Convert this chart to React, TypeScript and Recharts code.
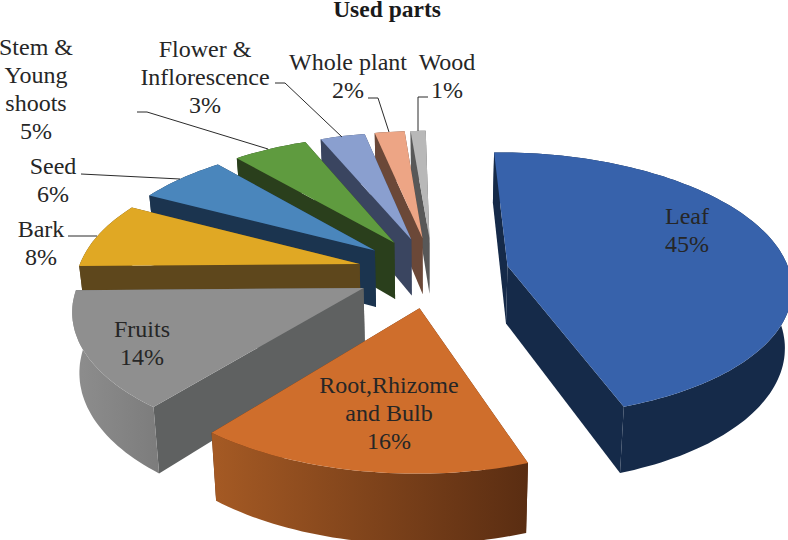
import React from "react";
import { PieChart, Pie } from "recharts";

const categories = ["Wood", "Whole plant", "Flower & Inflorescence", "Stem & Young shoots", "Seed", "Bark", "Fruits", "Root,Rhizome and Bulb", "Leaf"];
const shares = [1, 2, 3, 5, 6, 8, 14, 16, 45];
const topColors = ["#b8b8b8", "#eda585", "#8a9fcf", "#5f9b3f", "#4a86bc", "#e0a824", "#8f8f8f", "#cf6e2c", "#3762ab"];
const sideColors = ["#585858", "#6b4838", "#3a4560", "#2a3f1c", "#1b344f", "#5e471c", "#5f6161", "#5e2f13", "#152a49"];
const rimFrom = ["#585858", "#6b4838", "#3a4560", "#2a3f1c", "#1b344f", "#5e471c", "#8e8e8e", "#a55a24", "#152a49"];
const rimTo = ["#585858", "#6b4838", "#3a4560", "#2a3f1c", "#1b344f", "#5e471c", "#7c7c7c", "#5a2d12", "#152a49"];
const labelLines = [["Wood", "1%"], ["Whole plant", "2%"], ["Flower &", "Inflorescence", "3%"], ["Stem &", "Young", "shoots", "5%"], ["Seed", "6%"], ["Bark", "8%"], ["Fruits", "14%"], ["Root,Rhizome", "and Bulb", "16%"], ["Leaf", "45%"]];
const labelCentres = [[447, 70], [348, 70], [205, 57], [36, 55], [53, 174], [41, 237], [142, 337], [389, 393], [687, 224]];
const leaders = [
  [[428, 97], [418, 97], [418, 131]],
  [[368, 98], [378, 98], [389, 132]],
  [[275, 83], [285, 83], [342, 137]],
  [[137, 112], [147, 112], [268, 149]],
  [[81, 174], [180, 179]],
  [[68, 236], [97, 236]],
  [], [], [],
];

const data = categories.map((name, i) => ({ name, value: shares[i] }));

const FONT = "'Liberation Serif', serif";
const CX = 433, CY = 272, RX = 282, RY = 131, PERSPECTIVE = 0.14, EXPLODE = 0.27, DEPTH = 58, TAPER = 0.98;

function project(u: number, v: number, bottom: boolean) {
  const w = 1 + PERSPECTIVE * v;
  const x = (RX * u) / w;
  const y = (-RY * v + (bottom ? DEPTH : 0)) / w;
  return [CX + x * (bottom ? TAPER : 1), CY + y];
}

function toPath(points: number[][]) {
  return "M" + points.map((p) => p[0].toFixed(1) + "," + p[1].toFixed(1)).join("L") + "Z";
}

function Slice(props: any) {
  const i = categories.indexOf(props.name);
  const a = (90 - props.startAngle) * (Math.PI / 180);
  const b = (90 - props.endAngle) * (Math.PI / 180);
  const mid = (a + b) / 2;
  const ox = EXPLODE * Math.sin(mid);
  const oy = EXPLODE * Math.cos(mid);
  const n = Math.max(2, Math.ceil(Math.abs(a - b) * 40));
  const top: number[][] = [];
  const low: number[][] = [];
  for (let k = 0; k <= n; k++) {
    const t = a + ((b - a) * k) / n;
    top.push(project(ox + Math.sin(t), oy + Math.cos(t), false));
    low.push(project(ox + Math.sin(t), oy + Math.cos(t), true));
  }
  const apexTop = project(ox, oy, false);
  const apexLow = project(ox, oy, true);
  const gid = "rim" + i;
  return (
    <g>
      <defs>
        <linearGradient id={gid} x1="0" x2="1" y1="0" y2="0">
          <stop offset="0" stopColor={rimFrom[i]} />
          <stop offset="1" stopColor={rimTo[i]} />
        </linearGradient>
      </defs>
      <path d={toPath([apexTop, top[0], low[0], apexLow])} fill={sideColors[i]} />
      <path d={toPath([apexTop, top[n], low[n], apexLow])} fill={sideColors[i]} />
      <path d={toPath([...top, ...low.slice().reverse()])} fill={"url(#" + gid + ")"} />
      <path d={toPath([apexTop, ...top])} fill={topColors[i]} />
    </g>
  );
}

function renderLabel(props: any) {
  const i = props.index;
  const [x, y] = labelCentres[i];
  const line = leaders[i];
  return (
    <g key={i}>
      {line.length > 0 && (
        <polyline points={line.map((p) => p.join(",")).join(" ")} fill="none" stroke="#2b2b2b" strokeWidth={1} />
      )}
      <text textAnchor="middle" fontFamily={FONT} fontSize={24} fill="#262626">
        {labelLines[i].map((t, k) => (
          <tspan key={k} x={x} y={y + k * 28}>{t}</tspan>
        ))}
      </text>
    </g>
  );
}

export default function App() {
  return (
    <div style={{ position: "absolute", left: 0, top: 0, width: 788, height: 540, background: "#fff" }}>
      <PieChart width={788} height={540} margin={{ top: 0, right: 0, bottom: 0, left: 0 }}>
        <text x={387} y={17} textAnchor="middle" fontFamily={FONT} fontSize={23.5} fontWeight="bold" fill="#1a1a1a">Used parts</text>
        <Pie
          data={data}
          dataKey="value"
          nameKey="name"
          cx={CX}
          cy={CY}
          outerRadius={RY}
          startAngle={91}
          endAngle={451}
          stroke="none"
          isAnimationActive={false}
          shape={Slice}
          label={renderLabel}
          labelLine={false}
        />
      </PieChart>
    </div>
  );
}
